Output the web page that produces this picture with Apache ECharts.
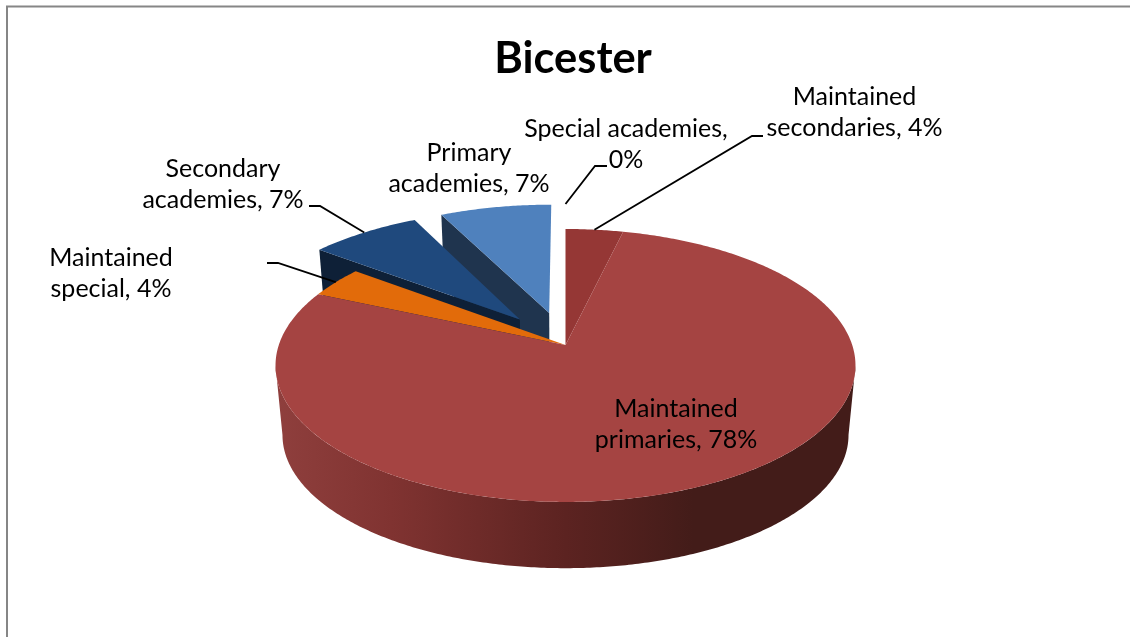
<!DOCTYPE html>
<html>
<head>
<meta charset="utf-8">
<style>html,body{margin:0;padding:0;background:#fff}#chart{width:1130px;height:637px}</style>
<script src="https://cdn.jsdelivr.net/npm/echarts@6/dist/echarts.min.js"></script>
</head>
<body>
<div id="chart"></div>
<script>
// ---- data ----
var categories = ['Maintained secondaries', 'Maintained primaries', 'Maintained special', 'Secondary academies', 'Primary academies', 'Special academies'];
var values = [3.7, 77.9, 3.7, 7.3, 7.4, 0];
var labelTexts = ['Maintained\nsecondaries, 4%', 'Maintained\nprimaries, 78%', 'Maintained\nspecial, 4%', 'Secondary\nacademies, 7%', 'Primary\nacademies, 7%', 'Special academies,\n0%'];
var titleText = 'Bicester';

// ---- styles and layout ----
var topColors = ['#953735', '#A54442', '#E26B0A', '#1F497D', '#4F81BD', '#4F81BD'];
var cutColors = [null, null, null, '#0E2037', '#1F344E', null];
var exploded = [0, 0, 0, 0.256, 0.256, 0.256];
var paintRank = [4, 5, 3, 2, 1, 0];
var labelAnchors = [[854.5, 112.5], [676, 424.5], [111, 273.5], [223, 184.5], [469, 168.5], [626, 144.5]];
var leaderBends = [[[752, 136], [763, 136]], null, [[278, 263], [267, 263]], [[320, 206], [309, 206]], null, [[595, 166], [607, 166]]];
var LABEL_FONT = 'Lato, Carlito, sans-serif';

var view = { cx: 565.5, k: 0.15, topY: 345, topA: 286.7, topB: 133.4, botY: 415, scale: 0.976 };

function project(u, v, bottom) {
  var s = bottom ? view.scale : 1;
  var d = 1 + view.k * v;
  return [view.cx + s * view.topA * u / d, (bottom ? view.botY : view.topY) - s * view.topB * v / d];
}
function slices() {
  var total = values.reduce(function (a, b) { return a + b; }, 0), acc = 0;
  return values.map(function (val, i) {
    var a0 = acc / total * 2 * Math.PI;
    acc += val;
    var a1 = acc / total * 2 * Math.PI, mid = (a0 + a1) / 2;
    return { a0: a0, a1: a1, mid: mid, ou: exploded[i] * Math.sin(mid), ov: exploded[i] * Math.cos(mid) };
  });
}
function rim(s, a, bottom) { return project(s.ou + Math.sin(a), s.ov + Math.cos(a), bottom); }
function arc(s, bottom, from, to) {
  var pts = [], n = Math.max(2, Math.ceil((to - from) / 0.01));
  for (var j = 0; j <= n; j++) pts.push(rim(s, from + (to - from) * j / n, bottom));
  return pts;
}

var wallFill = new echarts.graphic.LinearGradient(0, 0, 1, 0, [
  { offset: 0, color: '#8F3F3D' },
  { offset: 0.2, color: '#803331' },
  { offset: 0.5, color: '#5C2321' },
  { offset: 0.72, color: '#431C19' },
  { offset: 1, color: '#431C19' }
]);

function renderItem(params, api) {
  var i = params.dataIndex, s = slices()[i], kids = [], base = paintRank[i] * 10;
  if (values[i] > 0) {
    if (cutColors[i]) {
      kids.push({ type: 'polygon', z2: base, shape: { points: [
        project(s.ou, s.ov, false), rim(s, s.a0, false), rim(s, s.a0, true), project(s.ou, s.ov, true)
      ] }, style: { fill: cutColors[i] } });
    }
    if (i === 1) {
      // the wall runs between the two points where the projected rim is widest
      var tangent = Math.acos(-view.k);
      var from = Math.max(s.a0, tangent), to = Math.min(s.a1, 2 * Math.PI - tangent);
      kids.push({ type: 'polygon', z2: base, shape: { points: arc(s, false, from, to).concat(arc(s, true, from, to).reverse()) }, style: { fill: wallFill } });
    }
    kids.push({ type: 'polygon', z2: base + 1, shape: { points: [project(s.ou, s.ov, false)].concat(arc(s, false, s.a0, s.a1)) },
      style: { fill: topColors[i] } });
  }
  if (leaderBends[i]) {
    kids.push({ type: 'polyline', z2: 100, shape: { points: [rim(s, s.mid, false)].concat(leaderBends[i]) },
      style: { fill: 'none', stroke: '#000', lineWidth: 1.8 } });
  }
  kids.push({ type: 'text', z2: 110, style: {
    x: labelAnchors[i][0], y: labelAnchors[i][1], text: labelTexts[i], fill: '#000',
    font: '25px ' + LABEL_FONT, lineHeight: 31, align: 'center', verticalAlign: 'middle'
  } });
  return { type: 'group', children: kids };
}

var chart = echarts.init(document.getElementById('chart'), null, { renderer: 'canvas' });
chart.setOption({
  animation: false,
  backgroundColor: '#fff',
  title: { text: titleText, left: 568, top: 32, textAlign: 'center',
    textStyle: { fontFamily: LABEL_FONT, fontSize: 43.5, fontWeight: 'bold', color: '#000' } },
  graphic: [{ type: 'rect', silent: true, shape: { x: 7, y: 6.5, width: 1300, height: 800 },
    style: { fill: 'none', stroke: '#868686', lineWidth: 2 } }],
  series: [{
    type: 'custom', coordinateSystem: 'none', renderItem: renderItem,
    data: categories.map(function (c, i) { return { name: c, value: values[i] }; })
  }]
});
</script>
</body>
</html>
